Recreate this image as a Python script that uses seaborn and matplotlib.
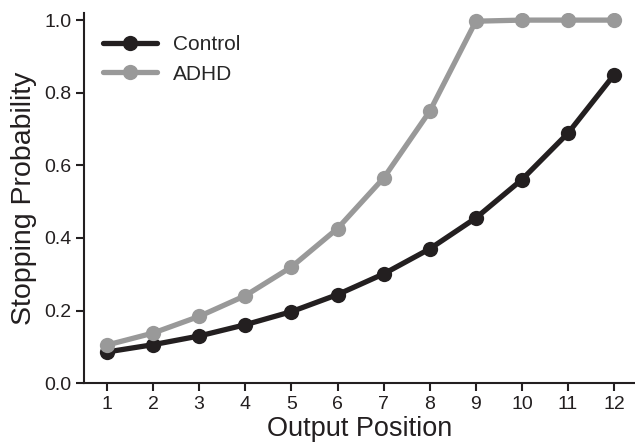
import matplotlib
matplotlib.use("Agg")
import matplotlib.pyplot as plt
import pandas as pd
import seaborn as sns

positions = [1, 2, 3, 4, 5, 6, 7, 8, 9, 10, 11, 12]
control = [0.086, 0.106, 0.130, 0.161, 0.197, 0.244, 0.301, 0.370, 0.455, 0.561, 0.689, 0.850]
adhd = [0.105, 0.138, 0.184, 0.241, 0.320, 0.426, 0.565, 0.749, 0.997, 1.0, 1.0, 1.0]
groups = ["Control", "ADHD"]
colors = ["#231f20", "#999999"]

df = pd.DataFrame({
    "Output Position": positions * 2,
    "Stopping Probability": control + adhd,
    "group": [groups[0]] * len(positions) + [groups[1]] * len(positions),
})

sns.set_style("ticks")
plt.rcParams["font.family"] = ["Liberation Sans", "DejaVu Sans"]

fig = plt.figure(figsize=(6.35, 4.43), dpi=100)
ax = fig.add_axes([0.132, 0.135, 0.868, 0.836])

sns.lineplot(data=df, x="Output Position", y="Stopping Probability", hue="group",
             hue_order=groups, palette=colors, style="group", markers=["o", "o"],
             dashes=False, linewidth=3.8, markersize=11, markeredgewidth=0, ax=ax)

ax.set_xlim(0.5, 12.45)
ax.set_ylim(0, 1.02)
ax.set_xticks(positions)
ax.set_yticks([0.0, 0.2, 0.4, 0.6, 0.8, 1.0])
ax.set_yticklabels(["0.0", "0.2", "0.4", "0.6", "0.8", "1.0"])
ax.tick_params(labelsize=14, length=6, width=1.5, pad=3, colors="#231f20")
ax.set_xlabel("Output Position", fontsize=19.5, labelpad=2.5, color="#231f20")
ax.set_ylabel("Stopping Probability", fontsize=20.5, labelpad=5, color="#231f20")
for side in ["left", "bottom"]:
    ax.spines[side].set_linewidth(1.5)
    ax.spines[side].set_color("#231f20")
sns.despine(ax=ax)

ax.legend(title=None, frameon=False, loc="upper left", fontsize=15,
          handlelength=2.6, bbox_to_anchor=(0.0, 0.99), labelspacing=0.5)

fig.savefig("out.png", dpi=100)
